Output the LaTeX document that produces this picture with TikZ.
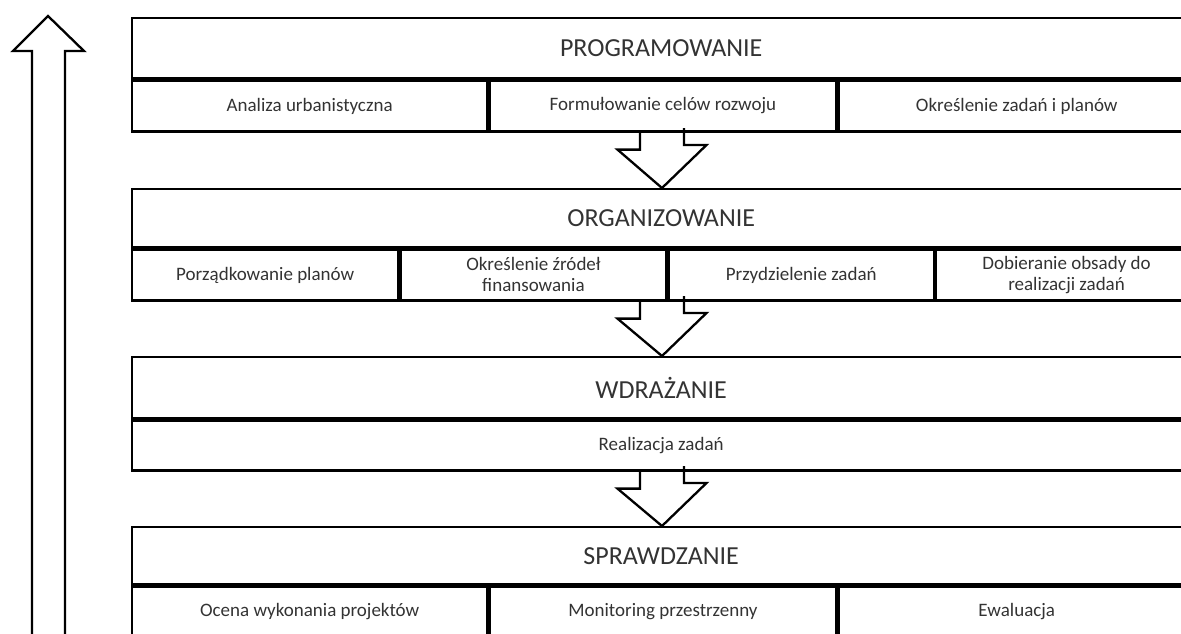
\documentclass[tikz,border=0pt]{standalone}
\usepackage{fontspec}
\setmainfont{Carlito}
\usetikzlibrary{calc}
\tikzset{
  ln/.style={line width=2.3pt, draw=black},
  hdr/.style={ln, rectangle, anchor=north west, minimum height=60pt, minimum width=1058pt, inner sep=0pt, font=\fontsize{26}{30}\selectfont, text=black!80},
  sub/.style={ln, rectangle, anchor=north west, minimum height=51pt, inner sep=0pt, align=center, font=\fontsize{19}{21}\selectfont, text=black!80},
  barr/.style={ln, line join=miter},
}
\newcommand\blockarrow[2]{%
  \draw[barr] ($(#1)+(-22,0)$) -- ++(0,17) -- ++(-22.5,0) -- (#2) -- ++(44.5,-43) -- ++(-22.5,0) -- ++(0,-17);}
\begin{document}
\begin{tikzpicture}[x=1pt,y=-1pt]
\useasboundingbox (0,0) rectangle (1181,633);
\clip (0,0) rectangle (1181,633);
% up arrow
\coordinate (upt) at (48,16);
\draw[barr] (32,650) -- (32,51) -- (13,51) -- (upt) -- (84,51) -- (65,51) -- (65,650);
% block 1
\node[hdr] (p) at (131,17) {PROGRAMOWANIE};
\node[sub, minimum width=355pt] (p1) at (p.south west) {Analiza urbanistyczna};
\node[sub, minimum width=347pt] (p2) at (p1.north east) {Formułowanie celów rozwoju};
\node[sub, minimum width=356pt] (p3) at (p2.north east) {Określenie zadań i planów};
% block 2
\node[hdr, minimum height=58pt] (o) at (131,188) {ORGANIZOWANIE};
\node[sub, minimum width=266pt] (o1) at (o.south west) {Porządkowanie planów};
\node[sub, minimum width=266pt] (o2) at (o1.north east) {Określenie źródeł\\finansowania};
\node[sub, minimum width=265pt] (o3) at (o2.north east) {Przydzielenie zadań};
\node[sub, minimum width=261pt] (o4) at (o3.north east) {Dobieranie obsady do\\realizacji zadań};
% block 3
\node[hdr, minimum height=61pt] (w) at (131,356) {WDRAŻANIE};
\node[sub, minimum width=1058pt, minimum height=50pt] (w1) at (w.south west) {Realizacja zadań};
% block 4
\node[hdr, minimum height=57pt] (s) at (131,526) {SPRAWDZANIE};
\node[sub, minimum width=355pt] (s1) at (s.south west) {Ocena wykonania projektów};
\node[sub, minimum width=347pt] (s2) at (s1.north east) {Monitoring przestrzenny};
\node[sub, minimum width=356pt] (s3) at (s2.north east) {Ewaluacja};
% block arrows
\coordinate (ax) at (662,0);
\coordinate (a1) at (ax |- p2.south);
\coordinate (t1) at (ax |- o.north);
\coordinate (a2) at (ax |- o3.south);
\coordinate (t2) at (ax |- w.north);
\coordinate (a3) at (ax |- w1.south);
\coordinate (t3) at (ax |- s.north);
\blockarrow{a1}{t1}
\blockarrow{a2}{t2}
\blockarrow{a3}{t3}
\end{tikzpicture}
\end{document}
